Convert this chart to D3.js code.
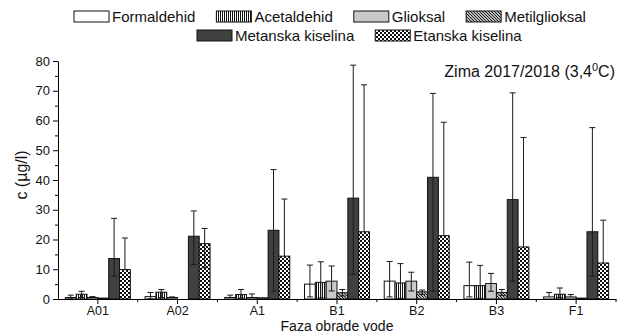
<!DOCTYPE html>
<html>
<head>
<meta charset="utf-8">
<script src="https://cdn.jsdelivr.net/npm/d3@7"></script>
<style>
body{margin:0;background:#fff}
svg{display:block;font-family:"Liberation Sans",Arial,sans-serif}
</style>
</head>
<body>
<div id="chart"></div>
<script>
// categories and series
const categories = ["A01","A02","A1","B1","B2","B3","F1"];
const seriesNames = ["Formaldehid","Acetaldehid","Glioksal","Metilglioksal","Metanska kiselina","Etanska kiselina"];

// mean values (µg/l)
const formaldehid  = [0.5, 0.8, 0.5, 5.0, 6.0, 4.5, 0.7];
const acetaldehid  = [1.6, 2.3, 1.5, 5.6, 5.4, 4.5, 1.6];
const glioksal     = [0.5, 0.5, 0.5, 6.0, 6.0, 5.2, 0.7];
const metilglioksal= [0.3, 0.0, 0.4, 2.1, 2.4, 2.2, 0.3];
const metanska     = [13.6, 21.1, 23.1, 33.9, 40.9, 33.4, 22.6];
const etanska      = [9.9, 18.6, 14.4, 22.6, 21.3, 17.5, 12.1];

// top ends of the error bars (null = not visible)
const formaldehidHi  = [1.3, 2.2, 1.3, 11.4, 12.6, 12.4, 2.2];
const acetaldehidHi  = [2.6, 3.2, 3.2, 12.5, 11.9, 11.3, 3.7];
const glioksalHi     = [0.8, 0.7, 1.7, 11.1, 9.0, 8.6, 1.5];
const metilglioksalHi= [null, null, null, 3.2, 3.0, 3.2, null];
const metanskaHi     = [27.1, 29.6, 43.5, 78.6, 69.1, 69.3, 57.6];
const etanskaHi      = [20.5, 23.7, 33.6, 72.0, 59.4, 54.3, 26.5];

// bottom ends of the error bars (null = not visible)
const formaldehidLo  = [0.0, 0.0, null, 0.7, 0.7, 0.7, null];
const acetaldehidLo  = [0.5, 0.5, 0.3, 0.4, 0.2, 0.2, 0.5];
const glioksalLo     = [null, null, null, 2.7, 2.7, 2.6, null];
const metilglioksalLo= [null, null, null, 1.0, 1.5, 1.2, null];
const metanskaLo     = [7.7, 11.6, 2.6, 8.3, 2.6, 6.0, 7.7];
const etanskaLo      = [null, 10.5, null, null, null, null, null];

const yTicks = [0,10,20,30,40,50,60,70,80];
const yMinorTicks = [5,15,25,35,45,55,65,75];

const means = [formaldehid, acetaldehid, glioksal, metilglioksal, metanska, etanska];
const his = [formaldehidHi, acetaldehidHi, glioksalHi, metilglioksalHi, metanskaHi, etanskaHi];
const los = [formaldehidLo, acetaldehidLo, glioksalLo, metilglioksalLo, metanskaLo, etanskaLo];

const w = 619, h = 334;

const svg = d3.select("#chart").append("svg")
  .attr("width", w).attr("height", h);

// fill patterns
const defs = svg.append("defs");
let p = defs.append("pattern").attr("id","pVert").attr("patternUnits","userSpaceOnUse")
  .attr("width",2).attr("height",4);
p.append("rect").attr("width",2).attr("height",4).attr("fill","#fff");
p.append("rect").attr("width",1).attr("height",4).attr("fill","#111");

p = defs.append("pattern").attr("id","pDiag").attr("patternUnits","userSpaceOnUse")
  .attr("width",3).attr("height",3);
p.append("rect").attr("width",3).attr("height",3).attr("fill","#fff");
p.append("path").attr("d","M-1,-1L4,4M-1,2L1,4M2,-1L4,1").attr("stroke","#111").attr("stroke-width",1.1);

p = defs.append("pattern").attr("id","pCheck").attr("patternUnits","userSpaceOnUse")
  .attr("width",4).attr("height",4);
p.append("rect").attr("width",4).attr("height",4).attr("fill","#fff");
p.append("rect").attr("width",2).attr("height",2).attr("fill","#111");
p.append("rect").attr("x",2).attr("y",2).attr("width",2).attr("height",2).attr("fill","#111");

const fills = ["#ffffff","url(#pVert)","#cbc8cb","url(#pDiag)","#404040","url(#pCheck)"];

const x0 = d3.scaleBand().domain(categories).range([58, 616]);
const x1 = d3.scaleBand().domain(seriesNames).range([0, x0.bandwidth()]).paddingOuter(0.68);
const y = d3.scaleLinear().domain([0, 80]).range([299, 61]);

// bars
const rows = [];
categories.forEach((c, i) => {
  seriesNames.forEach((s, j) => {
    rows.push({c, s, j, v: means[j][i], hi: his[j][i], lo: los[j][i]});
  });
});

svg.append("g").selectAll("rect")
  .data(rows.filter(d => d.v > 0))
  .enter().append("rect")
  .attr("x", d => x0(d.c) + x1(d.s))
  .attr("y", d => y(d.v))
  .attr("width", x1.bandwidth())
  .attr("height", d => y(0) - y(d.v))
  .attr("fill", d => fills[d.j])
  .attr("stroke", "#111")
  .attr("stroke-width", 1);

// error bars
const eb = svg.append("g").attr("stroke","#1a1a1a").attr("stroke-width",1);
rows.forEach(d => {
  if (d.hi == null && d.lo == null) return;
  const cx = x0(d.c) + x1(d.s) + x1.bandwidth() / 2;
  const top = d.hi != null ? d.hi : d.v;
  const bot = d.lo != null ? d.lo : d.v;
  eb.append("line").attr("x1",cx).attr("x2",cx).attr("y1",y(top)).attr("y2",y(bot));
  [d.hi, d.lo].forEach(e => {
    if (e == null) return;
    eb.append("line").attr("x1",cx-3).attr("x2",cx+3).attr("y1",y(e)).attr("y2",y(e));
  });
});

// y axis
const yAxis = svg.append("g").attr("transform","translate(58,0)")
  .call(d3.axisLeft(y).tickValues(yTicks).tickSize(5).tickPadding(3).tickSizeOuter(0));
svg.append("g").attr("transform","translate(58,0)")
  .call(d3.axisLeft(y).tickValues(yMinorTicks).tickSize(3).tickFormat(""))
  .select(".domain").remove();
yAxis.selectAll("text").attr("font-size",13).attr("fill","#111");

// x axis
const xAxis = svg.append("g").attr("transform","translate(0,299)")
  .call(d3.axisBottom(x0).tickSize(5).tickPadding(2).tickSizeOuter(0));
xAxis.selectAll("text").attr("font-size",12.5).attr("fill","#111");
svg.append("g").selectAll("line")
  .data(categories.slice(1).map(c => x0(c)).concat([x0.range()[1]]))
  .enter().append("line")
  .attr("x1", d => d).attr("x2", d => d)
  .attr("y1", 299).attr("y2", 302)
  .attr("stroke","#000");

svg.selectAll(".domain").attr("stroke","#000");

// axis titles
svg.append("text")
  .attr("transform","translate(27,175) rotate(-90)")
  .attr("text-anchor","middle")
  .attr("font-size",16)
  .attr("fill","#111")
  .text("c (µg/l)");

svg.append("text")
  .attr("x", 337).attr("y", 331)
  .attr("text-anchor","middle")
  .attr("font-size",14)
  .attr("fill","#111")
  .text("Faza obrade vode");

// annotation
const ann = svg.append("text")
  .attr("x", 615).attr("y", 77)
  .attr("text-anchor","end")
  .attr("font-size",16)
  .attr("fill","#111");
ann.append("tspan").text("Zima 2017/2018 (3,4");
ann.append("tspan").attr("font-size",11).attr("dy",-6).text("0");
ann.append("tspan").attr("dy",6).text("C)");

// legend
const legendRows = [
  {x: 74, y: 11, items: [0,1,2,3]},
  {x: 197, y: 30, items: [4,5]}
];
legendRows.forEach(r => {
  let cx = r.x;
  r.items.forEach(j => {
    svg.append("rect")
      .attr("x", cx).attr("y", r.y)
      .attr("width", 35).attr("height", 11)
      .attr("fill", fills[j]).attr("stroke","#111");
    const t = svg.append("text")
      .attr("x", cx + 38).attr("y", r.y + 11)
      .attr("font-size", 15)
      .attr("fill","#111")
      .text(seriesNames[j]);
    cx += 38 + t.node().getComputedTextLength() + 21;
  });
});
</script>
</body>
</html>
